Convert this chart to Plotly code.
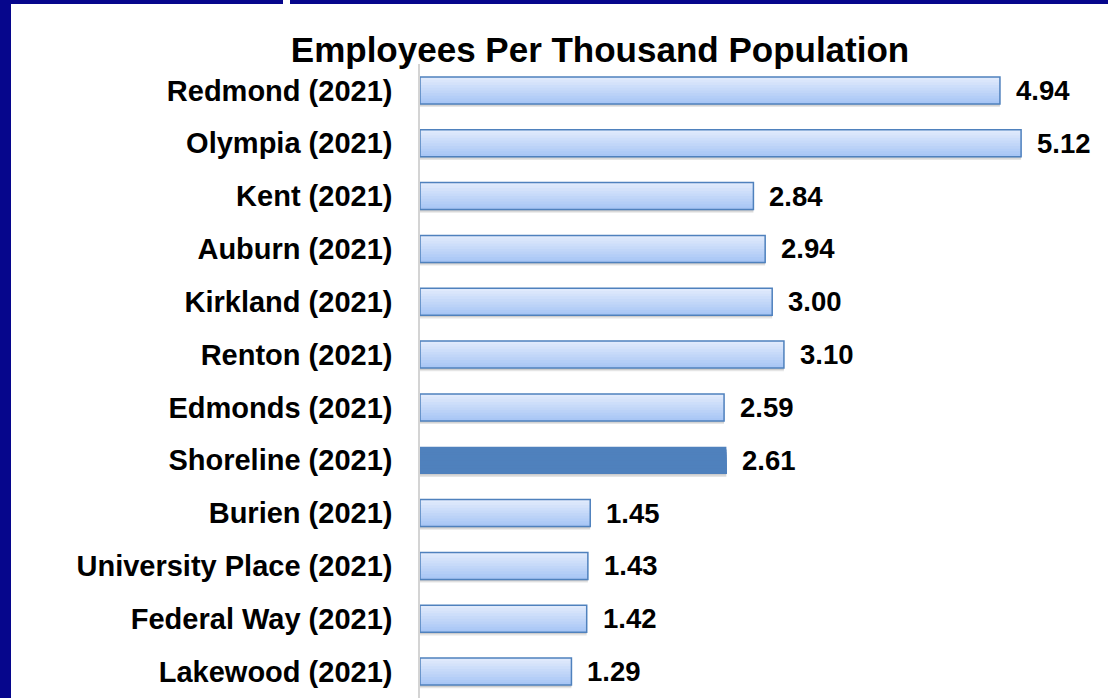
import plotly.graph_objects as go

cities = ["Redmond (2021)", "Olympia (2021)", "Kent (2021)", "Auburn (2021)",
          "Kirkland (2021)", "Renton (2021)", "Edmonds (2021)", "Shoreline (2021)",
          "Burien (2021)", "University Place (2021)", "Federal Way (2021)", "Lakewood (2021)"]
values = [4.94, 5.12, 2.84, 2.94, 3.00, 3.10, 2.59, 2.61, 1.45, 1.43, 1.42, 1.29]
labels = ["4.94", "5.12", "2.84", "2.94", "3.00", "3.10", "2.59", "2.61", "1.45", "1.43", "1.42", "1.29"]
highlight = "Shoreline (2021)"
title = "Employees Per Thousand Population"

W, H = 1108, 698
L, R, T, B = 420, 7, 64, 0
PW, PH = W - L - R, H - T - B
XMAX = PW / 117.4

BW = 0.51
NB = 10
top_c = (224, 234, 252)
bot_c = (168, 198, 245)
edge = "#4F81BD"
FONT = "Liberation Sans, Arial, sans-serif"

fig = go.Figure()

# soft shadow
fig.add_trace(go.Bar(
    y=cities, x=values, orientation="h", width=BW, offset=-BW / 2 + 0.06,
    marker=dict(color="rgba(0,0,0,0.10)", line=dict(width=0)),
    hoverinfo="skip", showlegend=False))
fig.add_trace(go.Bar(
    y=cities, x=values, orientation="h", width=BW, offset=-BW / 2 + 0.035,
    marker=dict(color="rgba(0,0,0,0.10)", line=dict(width=0)),
    hoverinfo="skip", showlegend=False))

# vertical gradient fill, painted top to bottom (each band reaches the bar bottom)
for i in range(NB):
    f = i / (NB - 1)
    c = tuple(round(top_c[k] + (bot_c[k] - top_c[k]) * f) for k in range(3))
    col = [("rgb(79,129,189)" if n == highlight else "rgb(%d,%d,%d)" % c) for n in cities]
    fig.add_trace(go.Bar(
        y=cities, x=values, orientation="h", width=BW - i * BW / NB,
        offset=-BW / 2 + i * BW / NB,
        marker=dict(color=col, line=dict(width=0)),
        hoverinfo="skip", showlegend=False))

# outline
line_cols = [("rgba(0,0,0,0)" if n == highlight else edge) for n in cities]
fig.add_trace(go.Bar(
    y=cities, x=values, orientation="h", width=BW, offset=-BW / 2,
    marker=dict(color="rgba(0,0,0,0)", line=dict(color=line_cols, width=1.5)),
    showlegend=False))

for n, v, t in zip(cities, values, labels):
    fig.add_annotation(x=v, y=n, text="<b>" + t + "</b>", xanchor="left", yanchor="middle",
                       xshift=14, showarrow=False,
                       font=dict(family=FONT, size=27.5, color="black"))

navy = "#06068C"


def px_x(px):
    return (px - L) / PW


def px_y(py):
    return (H - B - py) / PH


shapes = [
    dict(type="rect", xref="paper", yref="paper",
         x0=px_x(-2), x1=px_x(11), y0=px_y(702), y1=px_y(-2),
         fillcolor=navy, line=dict(width=0), layer="above"),
    dict(type="rect", xref="paper", yref="paper",
         x0=px_x(-2), x1=px_x(283), y0=px_y(4), y1=px_y(-2),
         fillcolor=navy, line=dict(width=0), layer="above"),
    dict(type="rect", xref="paper", yref="paper",
         x0=px_x(290), x1=px_x(W + 2), y0=px_y(4), y1=px_y(-2),
         fillcolor=navy, line=dict(width=0), layer="above"),
]

fig.update_layout(
    width=W, height=H, margin=dict(l=L, r=R, t=T, b=B, autoexpand=False),
    barmode="overlay", plot_bgcolor="white", paper_bgcolor="white",
    title=dict(text="<b>" + title + "</b>", x=600 / W, xanchor="center",
               y=1 - 50 / H, yanchor="middle",
               font=dict(family=FONT, size=35, color="black")),
    xaxis=dict(range=[0, XMAX], visible=False, fixedrange=True),
    yaxis=dict(categoryorder="array", categoryarray=cities, autorange="reversed",
               showline=True, linecolor="#D4D4D4", linewidth=1.5, showgrid=False,
               ticks="", ticklabelstandoff=20, automargin=False, fixedrange=True,
               tickfont=dict(family=FONT, size=29, color="black"),
               tickvals=cities, ticktext=["<b>" + c + "</b>" for c in cities]),
    shapes=shapes,
    font=dict(family=FONT),
)

fig.write_html("out.html", config={"displayModeBar": False},
               post_script="document.body.style.margin='0';document.body.style.overflow='hidden';")
